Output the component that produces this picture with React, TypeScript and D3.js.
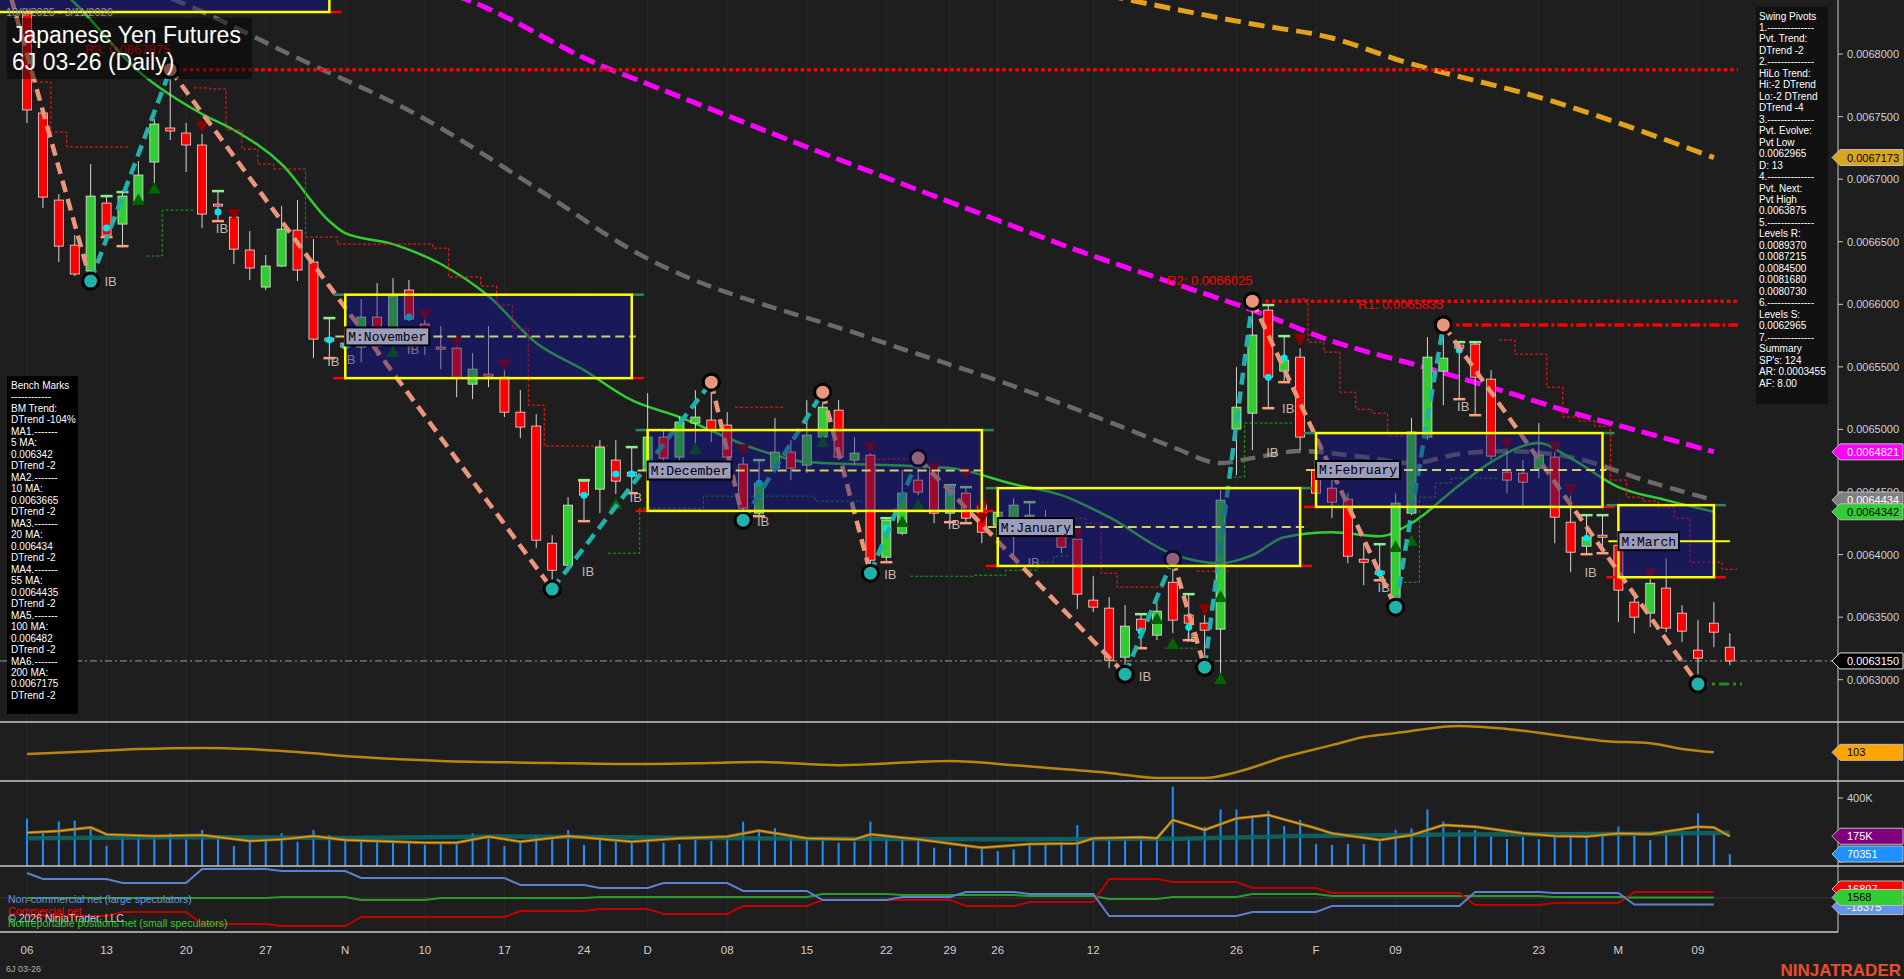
import React from "react";
import * as d3 from "d3";

// ---------------- DATA ----------------
const dates = [
  "2025-10-06","2025-10-07","2025-10-08","2025-10-09","2025-10-10","2025-10-13","2025-10-14","2025-10-15","2025-10-16","2025-10-17",
  "2025-10-20","2025-10-21","2025-10-22","2025-10-23","2025-10-24","2025-10-27","2025-10-28","2025-10-29","2025-10-30","2025-10-31",
  "2025-11-03","2025-11-04","2025-11-05","2025-11-06","2025-11-07","2025-11-10","2025-11-11","2025-11-12","2025-11-13","2025-11-14",
  "2025-11-17","2025-11-18","2025-11-19","2025-11-20","2025-11-21","2025-11-24","2025-11-25","2025-11-26","2025-11-28",
  "2025-12-01","2025-12-02","2025-12-03","2025-12-04","2025-12-05","2025-12-08","2025-12-09","2025-12-10","2025-12-11","2025-12-12",
  "2025-12-15","2025-12-16","2025-12-17","2025-12-18","2025-12-19","2025-12-22","2025-12-23","2025-12-24","2025-12-26","2025-12-29","2025-12-30","2025-12-31",
  "2026-01-02","2026-01-05","2026-01-06","2026-01-07","2026-01-08","2026-01-09","2026-01-12","2026-01-13","2026-01-14","2026-01-15","2026-01-16",
  "2026-01-20","2026-01-21","2026-01-22","2026-01-23","2026-01-26","2026-01-27","2026-01-28","2026-01-29","2026-01-30",
  "2026-02-02","2026-02-03","2026-02-04","2026-02-05","2026-02-06","2026-02-09","2026-02-10","2026-02-11","2026-02-12","2026-02-13",
  "2026-02-17","2026-02-18","2026-02-19","2026-02-20","2026-02-23","2026-02-24","2026-02-25","2026-02-26","2026-02-27",
  "2026-03-02","2026-03-03","2026-03-04","2026-03-05","2026-03-06","2026-03-09","2026-03-10","2026-03-11",
];

const open = [
  0.0068328,0.0067529,0.0066833,0.0066473,0.0066266,0.0066809,0.0066641,0.0066825,0.0067137,0.0067409,
  0.0067369,0.0067273,0.0066801,0.0066697,0.0066434,0.0066138,0.0066306,0.0066593,0.0066338,0.0065730,
  0.0065690,0.0065658,0.0065898,0.0065698,0.0066114,0.0065842,0.0065658,0.0065650,0.0065362,0.0065442,
  0.0065418,0.0065138,0.0065027,0.0064091,0.0063915,0.0064587,0.0064523,0.0064755,0.0064659,0.0064675,
  0.0064939,0.0064779,0.0065051,0.0065075,0.0065035,0.0064723,0.0064331,0.0064691,0.0064819,0.0064715,
  0.0064939,0.0065154,0.0064755,0.0064795,0.0063979,0.0064171,0.0064595,0.0064699,0.0064331,0.0064491,
  0.0064411,0.0064235,0.0064171,0.0064299,0.0064235,0.0064155,0.0064123,0.0063636,0.0063572,0.0063180,
  0.0063484,0.0063356,0.0063779,0.0063516,0.0063452,0.0063404,0.0065003,0.0065130,0.0065954,0.0065466,
  0.0065578,0.0064675,0.0064531,0.0064443,0.0063963,0.0063867,0.0063660,0.0064331,0.0064939,0.0065466,
  0.0065674,0.0065682,0.0065402,0.0064659,0.0064651,0.0064691,0.0064779,0.0064259,0.0064067,0.0064155,
  0.0064075,0.0063620,0.0063532,0.0063732,0.0063532,0.0063236,0.0063452,0.0063260,
];
const high = [
  0.0068368,0.0067569,0.0066881,0.0066553,0.0067121,0.0066865,0.0066897,0.0067145,0.0067481,0.0067875,
  0.0067449,0.0067361,0.0066905,0.0066737,0.0066585,0.0066394,0.0066785,0.0066833,0.0066521,0.0065890,
  0.0065754,0.0066042,0.0066170,0.0066210,0.0066194,0.0065954,0.0065826,0.0065738,0.0065610,0.0065826,
  0.0065554,0.0065314,0.0065122,0.0064155,0.0064459,0.0064595,0.0064915,0.0064915,0.0064859,0.0065290,
  0.0064995,0.0065106,0.0065314,0.0065378,0.0065138,0.0064779,0.0064755,0.0065091,0.0064915,0.0065234,
  0.0065298,0.0065234,0.0064939,0.0064811,0.0064291,0.0064675,0.0064771,0.0064715,0.0064555,0.0064539,
  0.0064435,0.0064395,0.0064451,0.0064419,0.0064355,0.0064219,0.0064195,0.0063827,0.0063660,0.0063596,
  0.0063524,0.0063612,0.0063963,0.0063684,0.0063556,0.0064515,0.0065498,0.0066025,0.0065994,0.0065746,
  0.0065650,0.0064915,0.0064611,0.0064491,0.0064091,0.0064083,0.0064491,0.0065091,0.0065738,0.0065835,
  0.0065698,0.0065698,0.0065474,0.0064859,0.0064755,0.0065051,0.0064835,0.0064475,0.0064315,0.0064315,
  0.0064099,0.0063692,0.0063811,0.0063971,0.0063596,0.0063476,0.0063620,0.0063372,
];
const low = [
  0.0067449,0.0066769,0.0066338,0.0066226,0.0066186,0.0066537,0.0066465,0.0066793,0.0066969,0.0067313,
  0.0067057,0.0066609,0.0066665,0.0066322,0.0066194,0.0066114,0.0066298,0.0066186,0.0065570,0.0065570,
  0.0065594,0.0065538,0.0065586,0.0065586,0.0065866,0.0065594,0.0065482,0.0065258,0.0065242,0.0065338,
  0.0065099,0.0064931,0.0064051,0.0063724,0.0063859,0.0064267,0.0064331,0.0064483,0.0064491,0.0064635,
  0.0064739,0.0064755,0.0064875,0.0064899,0.0064739,0.0064275,0.0064307,0.0064659,0.0064595,0.0064651,
  0.0064891,0.0064755,0.0064715,0.0063851,0.0063939,0.0064155,0.0064475,0.0064251,0.0064259,0.0064251,
  0.0064091,0.0064195,0.0063979,0.0064171,0.0064155,0.0064011,0.0063564,0.0063540,0.0063092,0.0063044,
  0.0063252,0.0063316,0.0063372,0.0063316,0.0063100,0.0063052,0.0064635,0.0064835,0.0065170,0.0065378,
  0.0064835,0.0064435,0.0064291,0.0063931,0.0063756,0.0063795,0.0063580,0.0064315,0.0064915,0.0065194,
  0.0065242,0.0065114,0.0064755,0.0064491,0.0064371,0.0064611,0.0064091,0.0063859,0.0064003,0.0064011,
  0.0063460,0.0063372,0.0063420,0.0063380,0.0063300,0.0062965,0.0063260,0.0063116,
];
const close = [
  0.0067553,0.0066857,0.0066465,0.0066242,0.0066865,0.0066553,0.0066865,0.0067033,0.0067441,0.0067385,
  0.0067273,0.0066721,0.0066785,0.0066441,0.0066290,0.0066306,0.0066601,0.0066274,0.0065722,0.0065706,
  0.0065658,0.0065898,0.0065666,0.0066066,0.0065882,0.0065682,0.0065642,0.0065410,0.0065482,0.0065426,
  0.0065138,0.0065019,0.0064115,0.0063875,0.0064395,0.0064475,0.0064859,0.0064587,0.0064627,0.0064939,
  0.0064771,0.0065059,0.0065099,0.0064995,0.0064779,0.0064371,0.0064571,0.0064819,0.0064691,0.0064955,
  0.0065178,0.0064779,0.0064811,0.0063955,0.0064275,0.0064491,0.0064499,0.0064331,0.0064539,0.0064291,
  0.0064179,0.0064339,0.0064395,0.0064315,0.0064171,0.0064059,0.0063684,0.0063580,0.0063156,0.0063428,
  0.0063396,0.0063548,0.0063476,0.0063452,0.0063396,0.0064435,0.0065178,0.0065754,0.0065418,0.0065554,
  0.0064939,0.0064491,0.0064419,0.0063987,0.0063939,0.0063843,0.0064411,0.0064979,0.0065578,0.0065570,
  0.0065650,0.0065418,0.0064787,0.0064595,0.0064579,0.0064795,0.0064299,0.0064019,0.0064139,0.0064139,
  0.0063716,0.0063500,0.0063771,0.0063412,0.0063388,0.0063172,0.0063380,0.0063150,
];

const volume = [
  280000,192000,261000,267000,235000,118000,182000,169000,182000,192000,
  157000,212000,169000,118000,143000,149000,192000,143000,212000,182000,
  169000,153000,143000,149000,137000,124000,133000,129000,192000,173000,
  118000,147000,182000,163000,212000,124000,176000,143000,149000,163000,
  137000,129000,153000,147000,173000,261000,212000,222000,169000,153000,
  163000,137000,143000,261000,163000,169000,149000,108000,104000,114000,
  118000,88000,98000,129000,133000,143000,241000,149000,153000,163000,
  173000,169000,467000,163000,231000,333000,333000,300000,325000,235000,
  271000,129000,124000,129000,129000,143000,212000,222000,333000,261000,
  212000,212000,173000,159000,173000,157000,182000,182000,163000,192000,
  231000,192000,153000,188000,192000,310000,192000,70351,
];

const volMaIdx = [0,2,4,5,8,11,14,16,18,20,25,27,29,31,34,38,41,44,46,49,52,53,56,60,63,66,67,70,71,72,74,76,78,81,82,85,87,89,91,94,96,98,100,102,105,106,107];
const volMaK = [196,206,227,186,176,182,147,157,176,153,137,137,173,143,176,143,163,173,208,163,157,186,157,108,129,133,163,169,163,271,212,280,300,222,192,153,182,241,231,192,176,173,192,188,231,227,175];
const volLongIdx = [0,10,20,30,45,60,72,80,90,100,107];
const volLongK = [163,169,165,173,163,157,160,176,186,188,196];

const adxIdx = [0,3,7,11,14,17,21,26,33,37,43,46,51,58,62,65,68,71,74,76,79,82,84,86,90,93,97,99,102,104,106];
const adxVal = [97,104,115,119,115,104,86,72,65,61,65,68,57,72,57,43,29,11,11,32,86,129,158,172,198,187,158,144,136,115,103];

// moving averages (key points by bar index)
const ma20Idx = [0,3,7,11,13,16,19,20,23,26,29,32,35,38,41,46,49,54,58,62,65,68,72,75,77,79,82,85,87,90,92,95,97,100,103,106];
const ma20 = [0.0068752,0.0068408,0.0067864,0.0067521,0.0067393,0.0067121,0.0066665,0.0066569,0.0066481,0.0066322,0.0066066,0.0065690,0.0065474,0.0065234,0.0065099,0.0064835,0.0064739,0.0064715,0.0064691,0.0064563,0.0064475,0.0064299,0.0064003,0.0063931,0.0063995,0.0064139,0.0064179,0.0064147,0.0064251,0.0064555,0.0064739,0.0064891,0.0064771,0.0064539,0.0064435,0.0064342];
const ma55Idx = [5,9,17,25,32,38,53,62,69,72,75,77,80,84,87,90,93,97,102,106];
const ma55 = [0.0068632,0.0068448,0.0067968,0.0067481,0.0066929,0.0066434,0.0065730,0.0065346,0.0065011,0.0064859,0.0064731,0.0064771,0.0064827,0.0064779,0.0064731,0.0064803,0.0064827,0.0064779,0.0064579,0.0064435];
const ma100Idx = [20,28,36,39,49,59,67,72,77,82,88,93,97,102,106];
const ma100 = [0.0068712,0.0068416,0.0067912,0.0067761,0.0067257,0.0066769,0.0066386,0.0066170,0.0065954,0.0065706,0.0065490,0.0065298,0.0065138,0.0064963,0.0064821];
const ma200Idx = [62,69,77,82,86,96,106];
const ma200 = [0.0068632,0.0068440,0.0068240,0.0068128,0.0067960,0.0067617,0.0067173];

// swing pivots
const pivotIdx = [-1,4,9,33,43,45,50,53,56,69,72,74,77,86,89,105];
const pivotPrice = [0.006845,0.0066186,0.0067875,0.0063724,0.0065378,0.0064275,0.0065298,0.0063851,0.0064771,0.0063044,0.0063963,0.0063100,0.0066025,0.0063580,0.0065835,0.0062965];
const pivotType = ["H","L","H","L","H","L","H","L","H","L","H","L","H","L","H","L"];

// resistance / support levels
const rName = ["R3","R2","R1"];
const rIdx = [9,77,89];
const rPrice = [0.0067875,0.0066025,0.0065835];
const sIdx = 105;
const sPrice = 0.0062965;
const lastPrice = 0.006315;

// stepped trails
const redStart = [1,2,3,11,12,13,14,15,16,18,20,26,27,29,30,31,32,33,45,53,66,67,68,69,74,80,81,82,83,84,85,86,93,94,96,97,98,99,100,101,102,103,104,105,107];
const redEnd = [1,2,6,11,12,13,14,15,17,19,25,26,28,29,30,31,32,36,47,55,66,67,68,71,75,80,81,82,83,84,85,86,93,95,96,97,98,99,100,101,102,103,104,106,107];
const redPrice = [0.0067776,0.0067377,0.0067257,0.0067729,0.0067721,0.0067393,0.0067241,0.0067121,0.0067081,0.0066537,0.0066481,0.0066449,0.0066218,0.0066146,0.0065994,0.0065810,0.0065194,0.0064867,0.0065178,0.0064763,0.0064291,0.0064251,0.0063851,0.0063740,0.0063867,0.0066042,0.0065698,0.0065618,0.0065298,0.0065162,0.0065130,0.0064947,0.0065714,0.0065602,0.0065338,0.0065099,0.0065067,0.0065027,0.0064595,0.0064459,0.0064427,0.0064379,0.0064291,0.0063939,0.0063883];
const greenStart = [8,9,37,39,43,50,56,60,62,64,65,72,76,77,87,88,89,90];
const greenEnd = [8,10,38,42,49,52,59,61,63,64,65,73,76,79,87,88,89,92];
const greenPrice = [0.0066386,0.0066753,0.0064011,0.0064371,0.0064467,0.0064427,0.0063827,0.0063835,0.0063875,0.0063939,0.0063987,0.0063252,0.0064619,0.0065051,0.0063779,0.0064459,0.0064571,0.0064611];

// monthly boxes
const boxMonth = ["October","November","December","January","February","March"];
const boxStart = [-3,20,39,61,81,100];
const boxEnd = [19,38,60,80,99,106];
const boxHigh = [0.0069200,0.0066077,0.0064995,0.0064531,0.0064971,0.0064395];
const boxLow = [0.0068336,0.0065410,0.0064349,0.0063909,0.0064381,0.0063819];

// markers
const dnIdx = [11,13,25,27,30,45,53,57,59,60,60,66,74,80,93,96,97,102];
const dnPrice = [0.0067433,0.0066729,0.0065930,0.0065714,0.0065530,0.0064851,0.0064867,0.0064699,0.0064659,0.0064395,0.0064299,0.0064179,0.0063572,0.0065730,0.0064899,0.0064875,0.0064531,0.0063859];
const upIdx = [7,8,23,37,42,50,55,56,71,72,75,75,86,87];
const upPrice = [0.0066825,0.0066913,0.0065610,0.0064395,0.0064835,0.0064891,0.0064251,0.0064387,0.0063476,0.0063276,0.0062996,0.0063652,0.0064051,0.0064099];
const dotIdx = [5,12,19,20,24,35,37,38,46,54,58,70,73,78,79,85,90,98];
const dotPrice = [0.0066609,0.0066737,0.0065714,0.0065666,0.0065898,0.0064475,0.0064643,0.0064643,0.0064571,0.0064211,0.0064499,0.0063388,0.0063420,0.0065418,0.0065570,0.0063851,0.0065634,0.0064131];
const ibTickIdx = [5,6,12,19,35,38,46,54,58,59,63,70,73,78,79,85,90,91,98,99];
const ibLabelIdx = [5,12,19,20,24,35,38,46,54,58,63,70,73,78,79,85,90,98];
const ibLabelPrice = [0.0066186,0.0066609,0.0065546,0.0065562,0.0065642,0.0063867,0.0064459,0.0064267,0.0063843,0.0064243,0.0063939,0.0063028,0.0063340,0.0064819,0.0065170,0.0063740,0.0065186,0.0063859];

// COT weekly net positions (thousands of contracts)
const cotWeekStart = [0,1,6,11,16,21,26,31,36,40,45,50,55,59,63,68,72,77,82,86,91,96,101];
const cotNonComm = [70,53.2,42,81.2,75.6,56,56,36.4,28,42,19.6,-5.6,2.8,16.8,11.2,-50.4,-50.4,-39.2,-22.4,-22.4,16.8,14,-18.375];
const cotComm = [-50.4,-50.4,-39.2,-72.8,-78.4,-53.2,-53.2,-36.4,-30.8,-44.8,-22.4,-5.6,-5.6,-22.4,-11.2,53.2,44.8,28,14,14,-19.6,-14,16.807];
const cotNonRep = [0,0,0,0,2.8,-5.6,0,0,2.8,2.8,2.8,11.2,8.4,8.4,5.6,-2.8,2.8,11.2,5.6,5.6,5.6,2.8,1.568];

// axis labels
const tickIdx = [0,5,10,15,20,25,30,35,39,44,49,54,58,61,67,76,81,86,95,100,105];
const tickLabels = ["06","13","20","27","N","10","17","24","D","08","15","22","29","26","12","26","F","09","23","M","09"];
const priceTicks = [0.0068,0.00675,0.0067,0.00665,0.0066,0.00655,0.0065,0.00645,0.0064,0.00635,0.0063];

const benchLines = ["Bench Marks","------------","BM Trend:","DTrend -104%","MA1.-------","5 MA:","0.006342","DTrend -2","MA2.-------","10 MA:","0.0063665","DTrend -2","MA3.-------","20 MA:","0.006434","DTrend -2","MA4.-------","55 MA:","0.0064435","DTrend -2","MA5.-------","100 MA:","0.006482","DTrend -2","MA6.-------","200 MA:","0.0067175","DTrend -2"];
const pivotLines = ["Swing Pivots","1.--------------","Pvt. Trend:","DTrend -2","2.--------------","HiLo Trend:","Hi:-2 DTrend","Lo:-2 DTrend","DTrend -4","3.--------------","Pvt. Evolve:","Pvt Low","0.0062965","D: 13","4.--------------","Pvt. Next:","Pvt High","0.0063875","5.--------------","Levels R:","0.0089370","0.0087215","0.0084500","0.0081680","0.0080730","6.--------------","Levels S:","0.0062965","7.--------------","Summary","SP's: 124","AR: 0.0003455","AF: 8.00"];

const FONT = "'Liberation Sans', Arial, Helvetica, sans-serif";
const MONO = "'Liberation Mono', 'Courier New', monospace";

export default function App() {
  const x = d3.scaleLinear().domain([0, 107]).range([27, 27 + 107 * 15.914]);
  const y = d3.scaleLinear().domain([0.0062662, 0.0068432]).range([722, 0]);
  const yAdx = d3.scaleLinear().domain([0, 212]).range([781, 722]);
  const yVol = d3.scaleLinear().domain([0, 400000]).range([866, 798]);
  const yCot = d3.scaleLinear().domain([-95.2, 89.6]).range([932, 866]);
  const AX = 1838;

  const smooth = d3.line().x((d) => x(d[0])).y((d) => y(d[1])).curve(d3.curveMonotoneX);
  const maPath = (idx, vals) => smooth(idx.map((v, i) => [v, vals[i]]));

  const stepPath = (starts, ends, prices) => {
    let p = "";
    starts.forEach((s, i) => {
      const yy = y(prices[i]);
      if (i === 0 || s !== ends[i - 1] + 1) p += `M${x(s - 0.5)},${yy}`;
      else p += `L${x(s - 0.5)},${yy}`;
      p += `L${x(ends[i] + 0.5)},${yy}`;
    });
    return p;
  };

  const adxPath = d3.line().x((d) => x(d[0])).y((d) => yAdx(d[1])).curve(d3.curveMonotoneX)(adxIdx.map((v, i) => [v, adxVal[i]]));
  const volMaPath = d3.line().x((d) => x(d[0])).y((d) => yVol(d[1] * 1000))(volMaIdx.map((v, i) => [v, volMaK[i]]));
  const volLongPath = d3.line().x((d) => x(d[0])).y((d) => yVol(d[1] * 1000)).curve(d3.curveMonotoneX)(volLongIdx.map((v, i) => [v, volLongK[i]]));

  const cotPath = (vals) => {
    const pts = [];
    cotWeekStart.forEach((s, k) => {
      pts.push([s, vals[k]]);
      const end = k < cotWeekStart.length - 1 ? cotWeekStart[k + 1] - 1 : 106;
      if (end > s) pts.push([end, vals[k]]);
    });
    return d3.line().x((d) => x(d[0])).y((d) => yCot(d[1]))(pts);
  };

  const triUp = d3.symbol(d3.symbolTriangle, 75)();

  const flag = (yy, text, bg, fg, key, stroke = "#bdbdbd") => (
    <g key={key}>
      <path d={`M${AX - 6},${yy} L${AX + 2},${yy - 8} L1903,${yy - 8} L1903,${yy + 8} L${AX + 2},${yy + 8} Z`} fill={bg} stroke={stroke} strokeWidth={1} />
      <text x={1847} y={yy + 4} fontSize={11} fill={fg} fontFamily={FONT}>{text}</text>
    </g>
  );

  const boxes = boxMonth.map((m, i) => ({
    m,
    x0: x(boxStart[i]),
    x1: x(boxEnd[i]),
    yt: y(boxHigh[i]),
    yb: y(boxLow[i]),
    ym: (y(boxHigh[i]) + y(boxLow[i])) / 2,
    current: i === boxMonth.length - 1,
  }));

  return (
    <div style={{ position: "absolute", left: 0, top: 0 }}>
      <svg width={1904} height={979} style={{ display: "block", background: "#1e1e1e" }}>
        <defs>
          <clipPath id="mainClip"><rect x={0} y={0} width={AX} height={722} /></clipPath>
          <clipPath id="lowClip"><rect x={0} y={722} width={AX} height={210} /></clipPath>
        </defs>
        <rect x={0} y={0} width={1904} height={979} fill="#1e1e1e" />

        {/* vertical grid */}
        {tickIdx.map((t, i) => (
          <line key={"vg" + i} x1={x(t)} x2={x(t)} y1={0} y2={932} stroke="#282828" strokeWidth={1} />
        ))}

        <g clipPath="url(#mainClip)">
          {/* box base fills */}
          {boxes.map((b, i) => (
            <rect key={"bf" + i} x={b.x0} y={b.yt} width={b.x1 - b.x0} height={b.yb - b.yt} fill="#1b1b4b" />
          ))}

          {/* moving averages */}
          <path d={maPath(ma200Idx, ma200)} fill="none" stroke="#e3a21a" strokeWidth={5} strokeDasharray="16,8" />
          <path d={maPath(ma55Idx, ma55)} fill="none" stroke="#6a6a6a" strokeWidth={4.5} strokeDasharray="15,8" />
          <path d={maPath(ma100Idx, ma100)} fill="none" stroke="#ff00ff" strokeWidth={5} strokeDasharray="16,7" />
          <path d={maPath(ma20Idx, ma20)} fill="none" stroke="#32cd32" strokeWidth={2.5} />

          {/* stepped trails */}
          <path d={stepPath(redStart, redEnd, redPrice)} fill="none" stroke="#ff1a1a" strokeWidth={1} strokeDasharray="3,2" />
          <path d={stepPath(greenStart, greenEnd, greenPrice)} fill="none" stroke="#1e9e1e" strokeWidth={1} strokeDasharray="3,2" />

          {/* resistance / support lines */}
          {rIdx.map((ri, i) => (
            <line key={"rl" + i} x1={x(ri)} x2={1738} y1={y(rPrice[i])} y2={y(rPrice[i])} stroke="#ff0000" strokeWidth={3.5} strokeDasharray={i === 2 ? "10,3,3,3" : "3.5,3"} />
          ))}
          <line x1={x(sIdx)} x2={1742} y1={y(sPrice)} y2={y(sPrice)} stroke="#1f8f1f" strokeWidth={3} strokeDasharray="10,4,3,4" />

          {/* last price line */}
          <line x1={0} x2={AX} y1={y(lastPrice)} y2={y(lastPrice)} stroke="#9a9a9a" strokeWidth={1} strokeDasharray="7,3,2,3" />

          {/* candles */}
          {open.map((o, i) => {
            const c = close[i];
            const up = c > o;
            const cx = x(i);
            const yTop = y(Math.max(o, c));
            const yBot = y(Math.min(o, c));
            return (
              <g key={"c" + i}>
                <line x1={cx} x2={cx} y1={y(high[i])} y2={y(low[i])} stroke="#d6d6d6" strokeWidth={1} />
                <rect x={cx - 4.5} y={yTop} width={9} height={Math.max(1.2, yBot - yTop)} fill={up ? "#32cd32" : "#ff0000"} stroke="#e4e4e4" strokeWidth={0.8} />
              </g>
            );
          })}

          {/* inside-bar ticks */}
          {ibTickIdx.map((b, i) => (
            <g key={"ibt" + i}>
              <line x1={x(b) - 6} x2={x(b) + 6} y1={y(high[b])} y2={y(high[b])} stroke="#90ee90" strokeWidth={2.5} />
              <line x1={x(b) - 6} x2={x(b) + 6} y1={y(low[b])} y2={y(low[b])} stroke="#ffa07a" strokeWidth={2.5} />
            </g>
          ))}

          {/* triangles */}
          {dnIdx.map((d, i) => (
            <path key={"dn" + i} d={triUp} transform={`translate(${x(d)},${y(dnPrice[i])}) rotate(180)`} fill="#8b0000" />
          ))}
          {upIdx.map((d, i) => (
            <path key={"up" + i} d={triUp} transform={`translate(${x(d)},${y(upPrice[i])})`} fill="#006400" />
          ))}
          {dotIdx.map((d, i) => (
            <circle key={"dot" + i} cx={x(d)} cy={y(dotPrice[i])} r={3.5} fill="#00e5ee" />
          ))}
          {ibLabelIdx.map((d, i) => (
            <text key={"ib" + i} x={x(d) + 4} y={y(ibLabelPrice[i]) + 5} fontSize={13} fill="#c9b3ad" fontFamily={FONT} textAnchor="middle">IB</text>
          ))}

          {/* swing lines */}
          {pivotIdx.slice(1).map((p, k) => (
            <line key={"sw" + k} x1={x(pivotIdx[k])} y1={y(pivotPrice[k])} x2={x(p)} y2={y(pivotPrice[k + 1])}
              stroke={pivotType[k + 1] === "H" ? "#20b2aa" : "#e9967a"} strokeWidth={4.5} strokeDasharray="12,7" />
          ))}
          {pivotIdx.map((p, k) => p >= 0 && (
            <circle key={"pv" + k} cx={x(p)} cy={y(pivotPrice[k])} r={8} fill={pivotType[k] === "H" ? "#e9967a" : "#20b2aa"} stroke="#000" strokeWidth={3} />
          ))}

          {/* box tint overlay */}
          {boxes.map((b, i) => (
            <rect key={"bt" + i} x={b.x0} y={b.yt} width={b.x1 - b.x0} height={b.yb - b.yt} fill="#191970" opacity={0.42} />
          ))}
          {/* box borders and midlines */}
          {boxes.map((b, i) => (
            <g key={"bb" + i}>
              <line x1={b.x0 - 12} x2={b.x0} y1={b.yt} y2={b.yt} stroke="#2e8b57" strokeWidth={2.5} />
              <line x1={b.x0 - 12} x2={b.x0} y1={b.yb} y2={b.yb} stroke="#ff0000" strokeWidth={2.5} />
              <line x1={b.x1} x2={b.x1 + 12} y1={b.yt} y2={b.yt} stroke="#2e8b57" strokeWidth={2.5} />
              <line x1={b.x1} x2={b.x1 + 12} y1={b.yb} y2={b.yb} stroke="#ff0000" strokeWidth={2.5} />
              {b.current ? (
                <line x1={b.x0 - 10} x2={b.x1 + 16} y1={b.ym} y2={b.ym} stroke="#ffff00" strokeWidth={2} />
              ) : (
                <line x1={b.x0 - 10} x2={b.x1 + 4} y1={b.ym} y2={b.ym} stroke="#cfcf6a" strokeWidth={2} strokeDasharray="9,5" />
              )}
              <rect x={b.x0} y={b.yt} width={b.x1 - b.x0} height={b.yb - b.yt} fill="none" stroke="#ffff00" strokeWidth={2.5} />
            </g>
          ))}
          {boxes.map((b, i) => i > 0 && (
            <g key={"bl" + i}>
              <rect x={b.x0} y={b.ym - 9} width={("M:" + b.m).length * 7.8 + 6} height={18} fill="#9c9cbc" stroke="#000" strokeWidth={2} />
              <text x={b.x0 + 3} y={b.ym + 4.5} fontSize={13} fill="#000" fontFamily={MONO}>{"M:" + b.m}</text>
            </g>
          ))}

          {/* level labels */}
          {rIdx.map((ri, i) => (
            <text key={"rt" + i} x={x(ri)} y={y(rPrice[i]) - 16} fontSize={13} fill="#ff0000" fontFamily={FONT} textAnchor="end">
              {rName[i] + ": " + rPrice[i].toFixed(7)}
            </text>
          ))}
        </g>

        {/* title */}
        <text x={6} y={16} fontSize={11} fill="#9a9a9a" fontFamily={FONT}>10/6/2025 - 3/11/2026</text>
        <rect x={7} y={18} width={245} height={61} fill="#000" opacity={0.45} />
        <text x={12} y={43} fontSize={23} fill="#ffffff" fontFamily={FONT}>Japanese Yen Futures</text>
        <text x={12} y={70} fontSize={23} fill="#ffffff" fontFamily={FONT}>6J 03-26 (Daily)</text>

        {/* bench marks panel */}
        <rect x={7} y={376} width={71} height={338} fill="#000" />
        {benchLines.map((t, i) => (
          <text key={"bm" + i} x={11} y={389 + i * 11.48} fontSize={10} fill="#fff" fontFamily={FONT}>{t}</text>
        ))}

        {/* swing pivots panel */}
        <rect x={1756} y={7} width={72} height={397} fill="#111" />
        {pivotLines.map((t, i) => (
          <text key={"sp" + i} x={1759} y={19.5 + i * 11.47} fontSize={10} fill="#fff" fontFamily={FONT}>{t}</text>
        ))}

        {/* lower panels */}
        <g clipPath="url(#lowClip)">
          <path d={adxPath} fill="none" stroke="#b8860b" strokeWidth={2.5} />
          {volume.map((v, i) => (
            <line key={"v" + i} x1={x(i)} x2={x(i)} y1={yVol(0)} y2={yVol(v)} stroke="#1e90ff" strokeWidth={2} />
          ))}
          <path d={volLongPath} fill="none" stroke="#0e6a6a" strokeWidth={4.5} opacity={0.85} />
          <path d={volMaPath} fill="none" stroke="#8a6a18" strokeWidth={3} />
          <path d={volMaPath} fill="none" stroke="#e0a020" strokeWidth={1.3} />
          <line x1={0} x2={AX} y1={yCot(0)} y2={yCot(0)} stroke="#3a3a3a" strokeWidth={1} />
          <path d={cotPath(cotNonRep)} fill="none" stroke="#2a9a2a" strokeWidth={2} />
          <path d={cotPath(cotComm)} fill="none" stroke="#c00000" strokeWidth={2} />
          <path d={cotPath(cotNonComm)} fill="none" stroke="#5a82d2" strokeWidth={2} />
        </g>
        <text x={8} y={903} fontSize={10.5} fill="#6495ed" fontFamily={FONT}>Non-commercial net (large speculators)</text>
        <text x={8} y={915} fontSize={10.5} fill="#ff0000" fontFamily={FONT}>Commercial net</text>
        <text x={8} y={922} fontSize={10.5} fill="#d0d0d0" fontFamily={FONT}>© 2026 NinjaTrader, LLC</text>
        <text x={8} y={927} fontSize={10.5} fill="#32cd32" fontFamily={FONT}>Nonreportable positions net (small speculators)</text>

        {/* panel separators and axis */}
        {[722, 781, 866].map((yy) => (
          <line key={"sep" + yy} x1={0} x2={1904} y1={yy} y2={yy} stroke="#c8c8c8" strokeWidth={1.5} />
        ))}
        <line x1={0} x2={AX} y1={932} y2={932} stroke="#c8c8c8" strokeWidth={1.5} />
        <line x1={AX} x2={AX} y1={0} y2={932} stroke="#c8c8c8" strokeWidth={1} />

        {priceTicks.map((p, i) => (
          <g key={"pt" + i}>
            <line x1={AX} x2={AX + 5} y1={y(p)} y2={y(p)} stroke="#c8c8c8" />
            <text x={1847} y={y(p) + 4} fontSize={11} fill="#cdd3da" fontFamily={FONT}>{p.toFixed(7)}</text>
          </g>
        ))}
        <line x1={AX} x2={AX + 5} y1={yVol(400000)} y2={yVol(400000)} stroke="#c8c8c8" />
        <text x={1847} y={yVol(400000) + 4} fontSize={11} fill="#cdd3da" fontFamily={FONT}>400K</text>
        <line x1={AX} x2={AX + 5} y1={862} y2={862} stroke="#c8c8c8" />

        {/* value flags */}
        {flag(y(ma200[ma200.length - 1]), "0.0067173", "#daa520", "#000", "f1")}
        {flag(y(ma100[ma100.length - 1]), "0.0064821", "#ff00ff", "#fff", "f2")}
        {flag(y(ma55[ma55.length - 1]), "0.0064434", "#808080", "#fff", "f3")}
        {flag(y(ma20[ma20.length - 1]), "0.0064342", "#32cd32", "#000", "f4")}
        {flag(y(lastPrice), "0.0063150", "#000", "#fff", "f5", "#e0e0e0")}
        {flag(yAdx(adxVal[adxVal.length - 1]), "103", "#ffa500", "#000", "f6")}
        {flag(yVol(volMaK[volMaK.length - 1] * 1000), "175K", "#800080", "#fff", "f7")}
        {flag(yVol(volume[volume.length - 1]), "70351", "#1e90ff", "#fff", "f8")}
        {flag(yCot(cotComm[cotComm.length - 1]) - 3, "16807", "#ff0000", "#fff", "f9")}
        {flag(yCot(cotNonComm[cotNonComm.length - 1]) + 2, "-18375", "#6495ed", "#fff", "f10")}
        {flag(yCot(cotNonRep[cotNonRep.length - 1]), "1568", "#32cd32", "#000", "f11")}

        {/* x axis labels */}
        {tickIdx.map((t, i) => (
          <text key={"xl" + i} x={x(t)} y={954} fontSize={11.5} fill="#d0d0d0" fontFamily={FONT} textAnchor="middle">{tickLabels[i]}</text>
        ))}
        <text x={6} y={972} fontSize={9} fill="#b0b0b0" fontFamily={FONT}>6J 03-26</text>
        <text x={1901} y={976} fontSize={17} fontWeight="bold" fill="#e8502a" fontFamily={FONT} textAnchor="end">NINJATRADER</text>
      </svg>
    </div>
  );
}
